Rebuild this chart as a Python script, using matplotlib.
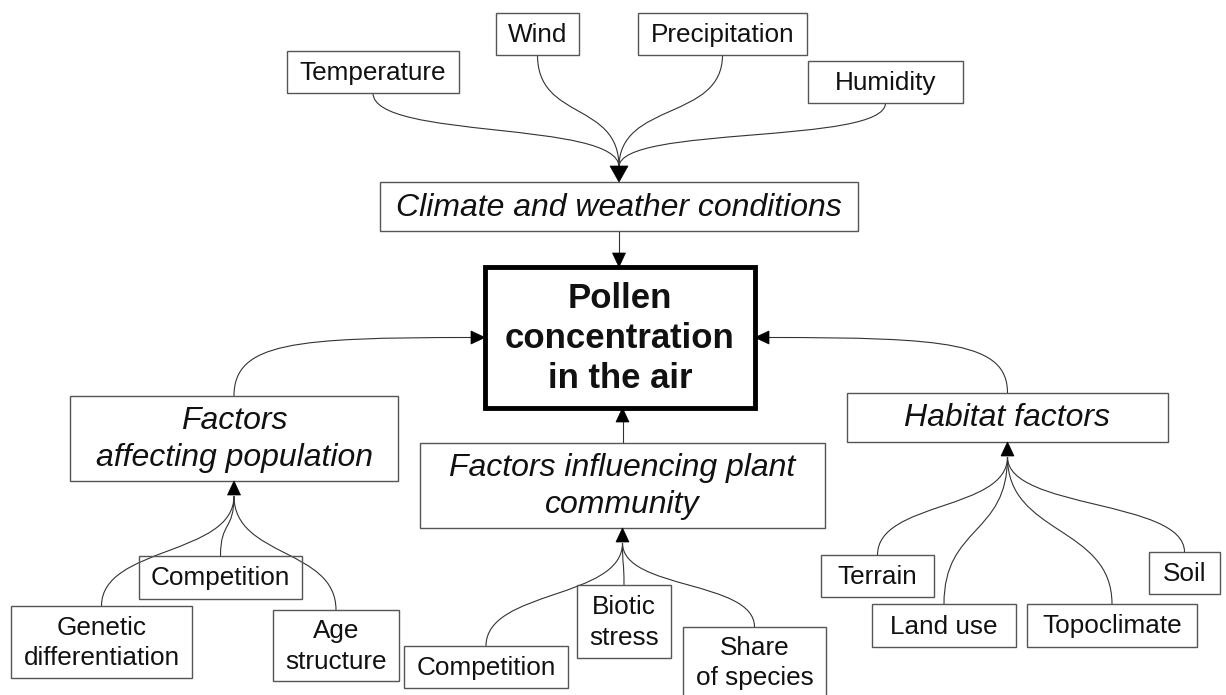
import numpy as np
import matplotlib.pyplot as plt
from matplotlib.path import Path
from matplotlib.patches import PathPatch, Rectangle, Polygon

plt.rcParams['font.family'] = ['Liberation Sans', 'DejaVu Sans']

# labels of the diagram
center_label = "Pollen\nconcentration\nin the air"
climate_label = "Climate and weather conditions"
pop_label = "Factors\naffecting population"
comm_label = "Factors influencing plant\ncommunity"
habitat_label = "Habitat factors"

weather_labels = ["Temperature", "Wind", "Precipitation", "Humidity"]
pop_items = ["Genetic\ndifferentiation", "Competition", "Age\nstructure"]
comm_items = ["Competition", "Biotic\nstress", "Share\nof species"]
habitat_items = ["Terrain", "Land use", "Topoclimate", "Soil"]

# box layout in pixels (x0, y0, x1, y1), y downwards
center_box = (485, 267, 755, 408)
climate_box = (380, 182, 858, 231)
pop_box = (70, 396, 398, 481)
comm_box = (420, 443, 825, 528)
habitat_box = (847, 393, 1168, 442)

weather_boxes = [(287, 51, 459, 93), (496, 13, 579, 55), (638, 13, 807, 55), (808, 61, 963, 103)]
pop_boxes = [(11, 606, 192, 678), (139, 556, 302, 599), (273, 610, 399, 681)]
comm_boxes = [(404, 646, 568, 688), (577, 585, 671, 658), (683, 627, 826, 697)]
habitat_boxes = [(821, 555, 934, 597), (872, 604, 1016, 647), (1027, 604, 1197, 647), (1149, 552, 1220, 594)]

fig = plt.figure(figsize=(12.26, 6.95), dpi=100)
ax = fig.add_axes([0, 0, 1, 1])
ax.set_xlim(0, 1226)
ax.set_ylim(695, 0)
ax.axis('off')

LINE = '#333333'


def box(b, text, size=18.8, style='normal', weight='normal', lw=1.0, ec='#555555', ls=1.15):
    x0, y0, x1, y1 = b
    ax.add_patch(Rectangle((x0, y0), x1 - x0, y1 - y0, fill=False, ec=ec, lw=lw, zorder=3))
    ax.text((x0 + x1) / 2, (y0 + y1) / 2 + 1, text, ha='center', va='center', fontsize=size,
            fontstyle=style, fontweight=weight, linespacing=ls, color='#111111', zorder=4)


def curve(p0, p1, p2, p3):
    path = Path([p0, p1, p2, p3], [Path.MOVETO, Path.CURVE4, Path.CURVE4, Path.CURVE4])
    ax.add_patch(PathPatch(path, fill=False, ec=LINE, lw=0.8, zorder=2))


def head(tip, direction, length=14, half=6.5):
    x, y = tip
    dx, dy = direction
    bx, by = x - dx * length, y - dy * length
    px, py = -dy * half, dx * half
    ax.add_patch(Polygon([(x, y), (bx + px, by + py), (bx - px, by - py)], closed=True,
                         fc='black', ec='black', lw=0.5, zorder=5))


def fan_up(children, parent):
    # children below, arrow into bottom of parent
    xp = (parent[0] + parent[2]) / 2
    tip = (xp, parent[3])
    yend = parent[3] + 15
    for c in children:
        xc = (c[0] + c[2]) / 2
        yc = c[1]
        ym = (yc + yend) / 2
        curve((xc, yc), (xc, ym - 5), (xp, ym + 5), (xp, yend))
    head(tip, (0, -1))


# boxes
box(center_box, center_label, size=25, weight='bold', lw=3.5, ec='black', ls=1.25)
box(climate_box, climate_label, size=23, style='italic')
box(pop_box, pop_label, size=23, style='italic', ls=1.27)
box(comm_box, comm_label, size=23, style='italic', ls=1.27)
box(habitat_box, habitat_label, size=23, style='italic')

for b, t in zip(weather_boxes, weather_labels):
    box(b, t)
for b, t in zip(pop_boxes, pop_items):
    box(b, t, ls=1.32)
for b, t in zip(comm_boxes, comm_items):
    box(b, t, ls=1.32)
for b, t in zip(habitat_boxes, habitat_items):
    box(b, t)

# weather -> climate (arrow points down)
xp = (climate_box[0] + climate_box[2]) / 2
ystart = climate_box[1] - 15
for c in weather_boxes:
    xc = (c[0] + c[2]) / 2
    yc = c[3]
    ym = (yc + ystart) / 2
    curve((xc, yc), (xc, ym + 10), (xp, ym - 10), (xp, ystart))
head((xp, climate_box[1]), (0, 1), length=16, half=9)

fan_up(pop_boxes, pop_box)
fan_up(comm_boxes, comm_box)
fan_up(habitat_boxes, habitat_box)

# group boxes -> center
cy = (center_box[1] + center_box[3]) / 2
ax.plot([xp, xp], [climate_box[3], center_box[1] - 14], color=LINE, lw=0.8, zorder=2)
head((xp, center_box[1]), (0, 1))

xm = (comm_box[0] + comm_box[2]) / 2
ax.plot([xm, xm], [comm_box[1], center_box[3] + 14], color=LINE, lw=0.8, zorder=2)
head((xm, center_box[3]), (0, -1))

xa = (pop_box[0] + pop_box[2]) / 2
curve((xa, pop_box[1]), (xa, cy + 5), (xa + 60, cy), (center_box[0] - 14, cy))
head((center_box[0], cy), (1, 0))

xh = (habitat_box[0] + habitat_box[2]) / 2
curve((xh, habitat_box[1]), (xh, cy + 5), (xh - 60, cy), (center_box[2] + 14, cy))
head((center_box[2], cy), (-1, 0))

fig.savefig('out.png', dpi=100, facecolor='white')
